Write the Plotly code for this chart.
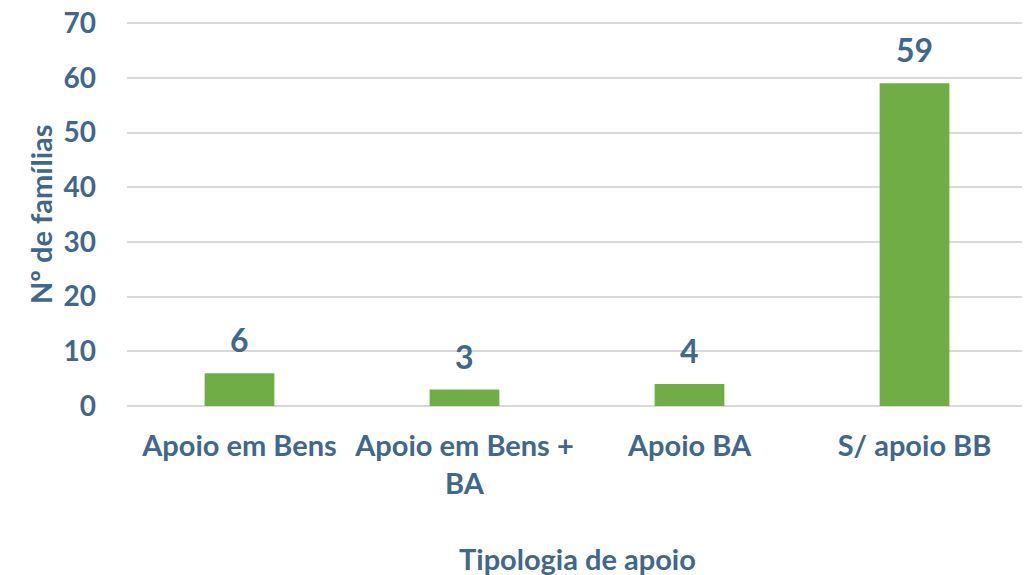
import plotly.graph_objects as go

categories = ["Apoio em Bens", "Apoio em Bens +<br>BA", "Apoio BA", "S/ apoio BB"]
values = [6, 3, 4, 59]
y_ticks = [0, 10, 20, 30, 40, 50, 60, 70]

TXT = "#41678A"
GREEN = "#70AD47"
FONT = "Lato, 'Open Sans', sans-serif"

fig = go.Figure()
fig.add_trace(go.Bar(x=categories, y=values, marker=dict(color=GREEN, line=dict(width=0)),
                     width=0.31, showlegend=False))

for c, v in zip(categories, values):
    fig.add_annotation(x=c, y=v, text=f"<b>{v}</b>", showarrow=False, yanchor="bottom",
                       yshift=12, font=dict(size=32, color=TXT, family=FONT))

fig.add_annotation(xref="paper", yref="paper", x=0.5, y=0, yshift=-152, yanchor="middle",
                   text="<b>Tipologia de apoio</b>", showarrow=False,
                   font=dict(size=29, color=TXT, family=FONT))
fig.add_annotation(xref="paper", yref="paper", x=0, xshift=-87, y=0.5, textangle=-90,
                   xanchor="center", yanchor="middle",
                   text="<b>Nº de famílias</b>", showarrow=False,
                   font=dict(size=29, color=TXT, family=FONT))

fig.update_layout(
    width=1022, height=567,
    margin=dict(l=119, r=3, t=14, b=169),
    paper_bgcolor="white", plot_bgcolor="white",
    font=dict(family=FONT, color=TXT, size=28),
    xaxis=dict(
        showgrid=False, showline=False, zeroline=False, automargin=False,
        tickfont=dict(size=29, color=TXT, family=FONT, weight="bold"),
        ticklabelstandoff=20,
    ),
    yaxis=dict(
        range=[0, 70.2], tickmode="array", tickvals=y_ticks,
        showgrid=True, gridcolor="#D9D9D9", gridwidth=1.5,
        zeroline=True, zerolinecolor="#D9D9D9", zerolinewidth=1.5, showline=False,
        automargin=False, ticklabeloverflow="allow",
        tickfont=dict(size=28, color=TXT, family=FONT, weight="bold"),
        ticklabelstandoff=30,
    ),
)

fig.write_html("out.html")
